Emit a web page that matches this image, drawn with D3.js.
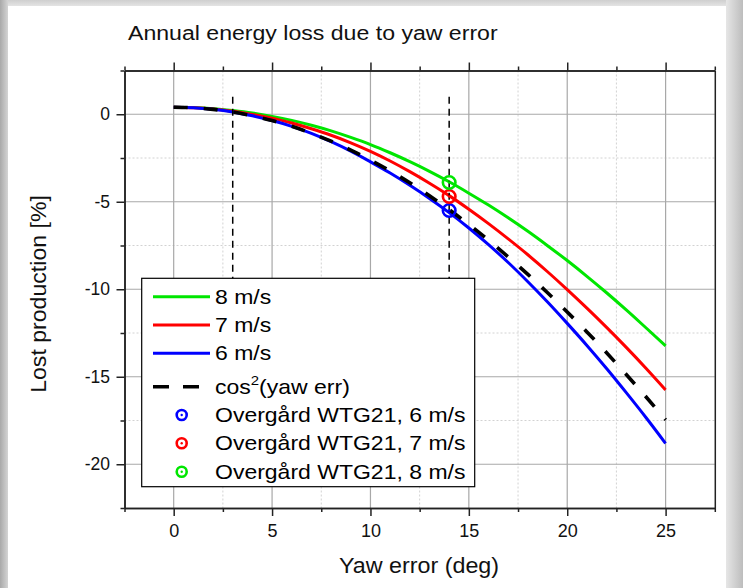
<!DOCTYPE html>
<html>
<head>
<meta charset="utf-8">
<script src="https://cdn.jsdelivr.net/npm/d3@7/dist/d3.min.js"></script>
<style>
  html, body { margin: 0; padding: 0; background: #fff; }
  svg { display: block; font-family: "Liberation Sans", Arial, sans-serif; }
</style>
</head>
<body>
<svg id="chart" width="743" height="588"></svg>
<script>
// ---------------- data ----------------
const yawDeg = [0, 1, 2, 3, 4, 5, 6, 7, 8, 9, 10, 11, 12, 13, 14, 15, 16, 17, 18, 19, 20, 21, 22, 23, 24, 25];
const loss8ms = [0.4, 0.38, 0.32, 0.21, 0.07, -0.12, -0.35, -0.63, -0.95, -1.32, -1.73, -2.2, -2.71, -3.26, -3.86, -4.51, -5.19, -5.92, -6.69, -7.51, -8.36, -9.26, -10.2, -11.18, -12.2, -13.23];
const loss7ms = [0.4, 0.37, 0.3, 0.17, -0.01, -0.22, -0.5, -0.83, -1.2, -1.63, -2.12, -2.67, -3.28, -3.94, -4.65, -5.43, -6.25, -7.12, -8.03, -9.0, -10.02, -11.08, -12.18, -13.32, -14.51, -15.75];
const loss6ms = [0.4, 0.37, 0.28, 0.13, -0.09, -0.36, -0.69, -1.09, -1.57, -2.11, -2.72, -3.36, -4.06, -4.81, -5.62, -6.5, -7.45, -8.47, -9.57, -10.73, -11.95, -13.21, -14.53, -15.91, -17.33, -18.81];
const lossCos2 = [0.4, 0.37, 0.28, 0.13, -0.09, -0.36, -0.69, -1.09, -1.54, -2.05, -2.62, -3.24, -3.92, -4.66, -5.45, -6.3, -7.2, -8.15, -9.15, -10.2, -11.3, -12.44, -13.63, -14.87, -16.14, -17.46];

const measYaw = [14, 14, 14];
const measLoss = [-5.5, -4.7, -3.9];
const measLabels = ["Overgård WTG21, 6 m/s", "Overgård WTG21, 7 m/s", "Overgård WTG21, 8 m/s"];
const measColors = ["#0000ff", "#ff0000", "#00e600"];

const refYaw = [3, 14];          // vertical dashed marker lines
const refTop = 1, refBottom = -20;

const xTicks = [0, 5, 10, 15, 20, 25];
const xMinor = [-2.5, 2.5, 7.5, 12.5, 17.5, 22.5, 27.5];
const yTicks = [0, -5, -10, -15, -20];
const yMinor = [2.5, -2.5, -7.5, -12.5, -17.5, -22.5];

const titleText = "Annual energy loss due to yaw error";
const xTitle = "Yaw error (deg)";
const yTitle = "Lost production [%]";

// ---------------- drawing ----------------
const svg = d3.select("#chart");
const W = 743, H = 588;

// grey frame gradients
const defs = svg.append("defs");
const gl = defs.append("linearGradient").attr("id", "gl").attr("x1", 0).attr("x2", 1).attr("y1", 0).attr("y2", 0);
gl.append("stop").attr("offset", 0).attr("stop-color", "#a9a9a9");
gl.append("stop").attr("offset", 1).attr("stop-color", "#d4d4d4");
const gr = defs.append("linearGradient").attr("id", "gr").attr("x1", 0).attr("x2", 1).attr("y1", 0).attr("y2", 0);
gr.append("stop").attr("offset", 0).attr("stop-color", "#e6e6e6");
gr.append("stop").attr("offset", 1).attr("stop-color", "#bdbdbd");
const gt = defs.append("linearGradient").attr("id", "gt").attr("x1", 0).attr("x2", 0).attr("y1", 0).attr("y2", 1);
gt.append("stop").attr("offset", 0).attr("stop-color", "#cfcfcf");
gt.append("stop").attr("offset", 1).attr("stop-color", "#e4e4e4");

svg.append("rect").attr("x", 0).attr("y", 0).attr("width", W).attr("height", 6).attr("fill", "url(#gt)");
svg.append("rect").attr("x", 0).attr("y", 0).attr("width", 8).attr("height", H).attr("fill", "url(#gl)");
svg.append("rect").attr("x", 726).attr("y", 0).attr("width", 17).attr("height", H).attr("fill", "url(#gr)");
svg.append("rect").attr("x", 8).attr("y", 6).attr("width", 718).attr("height", H - 6).attr("fill", "#fff");

const x = d3.scaleLinear().domain([-2.5, 27.5]).range([124.5, 714.8]);
const y = d3.scaleLinear().domain([-22.5, 2.5]).range([508, 70.5]);

// grid
const grid = svg.append("g");
grid.selectAll(".vmin").data(xMinor.filter(d => d > -2.5 && d < 27.5)).join("line")
  .attr("x1", d => x(d)).attr("x2", d => x(d)).attr("y1", y(2.5)).attr("y2", y(-22.5))
  .attr("stroke", "#d2d2d2").attr("stroke-width", 1).attr("stroke-dasharray", "2,2");
grid.selectAll(".hmin").data(yMinor.filter(d => d < 2.5 && d > -22.5)).join("line")
  .attr("y1", d => y(d)).attr("y2", d => y(d)).attr("x1", x(-2.5)).attr("x2", x(27.5))
  .attr("stroke", "#d2d2d2").attr("stroke-width", 1).attr("stroke-dasharray", "2,2");
grid.selectAll(".vmaj").data(xTicks).join("line")
  .attr("x1", d => x(d)).attr("x2", d => x(d)).attr("y1", y(2.5)).attr("y2", y(-22.5))
  .attr("stroke", "#a8a8a8").attr("stroke-width", 1.2);
grid.selectAll(".hmaj").data(yTicks).join("line")
  .attr("y1", d => y(d)).attr("y2", d => y(d)).attr("x1", x(-2.5)).attr("x2", x(27.5))
  .attr("stroke", "#a8a8a8").attr("stroke-width", 1.2);

// curves
const series = [
  { vals: loss8ms, color: "#00e600", dash: null, label: "8 m/s" },
  { vals: loss7ms, color: "#ff0000", dash: null, label: "7 m/s" },
  { vals: loss6ms, color: "#0000ff", dash: null, label: "6 m/s" },
  { vals: lossCos2, color: "#000000", dash: "14,16", label: "cos2" }
];
const line = d3.line().x(d => x(d[0])).y(d => y(d[1])).curve(d3.curveMonotoneX);
series.forEach(s => {
  svg.append("path")
    .datum(yawDeg.map((v, i) => [v, s.vals[i]]))
    .attr("d", line)
    .attr("fill", "none")
    .attr("stroke", s.color)
    .attr("stroke-width", s.dash ? 3.6 : 3)
    .attr("stroke-dasharray", s.dash)
    .attr("stroke-linejoin", "round");
});

// vertical dashed reference lines
svg.selectAll(".ref").data(refYaw).join("line")
  .attr("x1", d => x(d)).attr("x2", d => x(d)).attr("y1", y(refTop)).attr("y2", y(refBottom))
  .attr("stroke", "#000").attr("stroke-width", 1.5).attr("stroke-dasharray", "7,5");

// measured points
const mk = svg.append("g");
measYaw.forEach((v, i) => {
  mk.append("circle").attr("cx", x(v)).attr("cy", y(measLoss[i])).attr("r", 6.3)
    .attr("fill", "none").attr("stroke", measColors[i]).attr("stroke-width", 2.6);
  mk.append("circle").attr("cx", x(v)).attr("cy", y(measLoss[i])).attr("r", 1.3)
    .attr("fill", measColors[i]);
});

// axes
const axisColor = "#222";
function styleAxis(g) {
  g.select(".domain").attr("stroke", axisColor).attr("stroke-width", 1.5);
  g.selectAll(".tick line").attr("stroke", axisColor).attr("stroke-width", 1.5);
  g.selectAll(".tick text").attr("fill", "#111").attr("font-family", "Liberation Sans, Arial, sans-serif");
}
const fmt = d => String(d);
const gB = svg.append("g").attr("transform", `translate(0,${y(-22.5)})`)
  .call(d3.axisBottom(x).tickValues(xTicks).tickFormat(fmt).tickSize(8).tickPadding(8).tickSizeOuter(0));
styleAxis(gB); gB.selectAll(".tick text").attr("font-size", 18);
const gBm = svg.append("g").attr("transform", `translate(0,${y(-22.5)})`)
  .call(d3.axisBottom(x).tickValues(xMinor).tickFormat("").tickSize(4).tickSizeOuter(0));
styleAxis(gBm);
const gT = svg.append("g").attr("transform", `translate(0,${y(2.5)})`)
  .call(d3.axisTop(x).tickValues(xTicks).tickFormat("").tickSize(8).tickSizeOuter(0));
styleAxis(gT);
const gTm = svg.append("g").attr("transform", `translate(0,${y(2.5)})`)
  .call(d3.axisTop(x).tickValues(xMinor).tickFormat("").tickSize(4).tickSizeOuter(0));
styleAxis(gTm);
const gL = svg.append("g").attr("transform", `translate(${x(-2.5)},0)`)
  .call(d3.axisLeft(y).tickValues(yTicks).tickFormat(fmt).tickSize(8).tickPadding(6.5).tickSizeOuter(0));
styleAxis(gL); gL.selectAll(".tick text").attr("font-size", 17.5);
const gLm = svg.append("g").attr("transform", `translate(${x(-2.5)},0)`)
  .call(d3.axisLeft(y).tickValues(yMinor).tickFormat("").tickSize(4).tickSizeOuter(0));
styleAxis(gLm);
const gR = svg.append("g").attr("transform", `translate(${x(27.5)},0)`)
  .call(d3.axisRight(y).tickValues([]).tickSizeOuter(0));
styleAxis(gR);

// titles
svg.append("text").attr("transform", "translate(128,40) scale(1.1,1)")
  .attr("font-size", 21).attr("fill", "#111").text(titleText);
svg.append("text").attr("transform", "translate(419,573) scale(1.06,1)")
  .attr("text-anchor", "middle").attr("font-size", 22).attr("fill", "#111").text(xTitle);
svg.append("text").attr("transform", "translate(46,294) rotate(-90) scale(1.05,1)")
  .attr("text-anchor", "middle").attr("font-size", 22).attr("fill", "#111").text(yTitle);

// legend
const lg = svg.append("g");
lg.append("rect").attr("x", 141.7).attr("y", 278.3).attr("width", 333).attr("height", 208.4)
  .attr("fill", "#fff").attr("stroke", "#000").attr("stroke-width", 1.2);
const rowY = [296.7, 325, 353.3, 386.7, 415, 443.3, 471.7];
const textX = 215;
series.forEach((s, i) => {
  lg.append("line").attr("x1", 153).attr("x2", 210).attr("y1", rowY[i]).attr("y2", rowY[i])
    .attr("stroke", s.color).attr("stroke-width", s.dash ? 3.6 : 3)
    .attr("stroke-dasharray", s.dash ? "16,14" : null);
  const t = lg.append("text").attr("transform", `translate(${textX},${rowY[i] + 7}) scale(1.15,1)`)
    .attr("font-size", 20).attr("fill", "#000");
  if (s.dash) {
    t.append("tspan").text("cos");
    t.append("tspan").attr("font-size", 13).attr("dy", -9).text("2");
    t.append("tspan").attr("dy", 9).text("(yaw err)");
  } else {
    t.text(s.label);
  }
});
measLabels.forEach((lab, i) => {
  const ry = rowY[4 + i];
  lg.append("circle").attr("cx", 181.7).attr("cy", ry).attr("r", 5)
    .attr("fill", "none").attr("stroke", measColors[i]).attr("stroke-width", 2.6);
  lg.append("circle").attr("cx", 181.7).attr("cy", ry).attr("r", 1.2).attr("fill", measColors[i]);
  lg.append("text").attr("transform", `translate(${textX},${ry + 7}) scale(1.15,1)`)
    .attr("font-size", 20).attr("fill", "#000").text(lab);
});
</script>
</body>
</html>
